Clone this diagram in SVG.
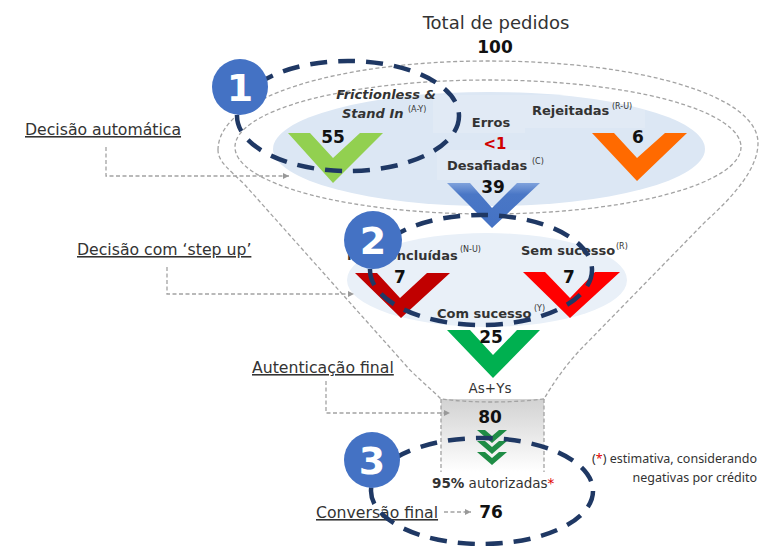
<svg xmlns="http://www.w3.org/2000/svg" width="762" height="546" viewBox="0 0 762 546">
<style>
.gd{fill:none;stroke:#a3a3a3;stroke-width:1.3;stroke-dasharray:4 2.5}
.nv{fill:none;stroke:#1f3864;stroke-width:4.5;stroke-dasharray:17 11}
.lbl{font-family:"DejaVu Sans",sans-serif;font-size:15.7px;fill:#333;text-decoration:underline}
.t{font-family:"DejaVu Sans",sans-serif;font-weight:bold;font-size:13px;fill:#333}
.sup{font-family:"DejaVu Sans",sans-serif;font-size:8px;fill:#333}
.num{font-family:"DejaVu Sans",sans-serif;font-weight:bold;font-size:17px;fill:#111;text-anchor:middle}
.cn{font-family:"DejaVu Sans",sans-serif;font-weight:bold;font-size:38px;fill:#fff;text-anchor:middle}
.circ{fill:#4472c4}
.soft{fill:#fff;opacity:.14}
.chev{fill:#1e8c45}
</style>
<defs>
<marker id="ah" markerWidth="8" markerHeight="8" refX="6" refY="3" orient="auto" markerUnits="userSpaceOnUse"><path d="M0,0 L6,3 L0,6 z" fill="#999"/></marker>
<linearGradient id="box" x1="0" y1="0" x2="0" y2="1"><stop offset="0" stop-color="#d2d2d2"/><stop offset="1" stop-color="#ffffff"/></linearGradient>
<linearGradient id="blu" x1="0" y1="0" x2="0" y2="1"><stop offset="0" stop-color="#7fa2dc"/><stop offset="0.25" stop-color="#4a77c6"/><stop offset="1" stop-color="#4472c4"/></linearGradient>
</defs>
<rect width="762" height="546" fill="#fff"/>

<g id="funnel">
<rect x="441" y="399" width="103" height="73" fill="url(#box)"/>
<path class="gd" d="M218 150 C218 97 338 61 488 61 C638 61 758 95 758 143 C758 168 735 195 705 222 L580 350 C565 366 552 385 544 399 Q492 405 441 399 C432 390 420 380 410 370 L245 185 C230 170 218 162 218 150 Z"/>
<line class="gd" x1="441" y1="399" x2="441" y2="472"/>
<line class="gd" x1="544" y1="399" x2="544" y2="472"/>
<ellipse class="gd" cx="488" cy="147" rx="253" ry="67"/>
<ellipse cx="489" cy="149" rx="216" ry="57" fill="#dce7f4"/>
<rect class="soft" x="433" y="95" width="92" height="38"/>
<rect class="soft" x="437" y="150" width="93" height="30"/>
<rect class="soft" x="525" y="95" width="120" height="33"/>
<ellipse cx="487" cy="280" rx="140" ry="47" fill="#e9f0f8"/>
</g>

<g id="total">
<text x="496" y="29" font-family="DejaVu Sans,sans-serif" font-size="18" fill="#333" text-anchor="middle">Total de pedidos</text>
<text class="num" x="495" y="53">100</text>
</g>

<g id="frictionless">
<polygon points="288,133 310,133 333,158 360,133 383,133 333,183" fill="#92d050"/>
<text class="t" x="386" y="99" text-anchor="middle" font-style="italic">Frictionless &amp;</text>
<text class="t" x="342" y="118" font-style="italic">Stand In</text>
<text class="sup" x="408" y="112">(A-Y)</text>
<text class="num" x="333" y="143">55</text>
</g>

<g id="erros">
<text class="t" x="491" y="127" text-anchor="middle" font-size="12">Erros</text>
<text x="495" y="149" font-family="DejaVu Sans,sans-serif" font-weight="bold" font-size="15" fill="#d00000" text-anchor="middle">&lt;1</text>
</g>

<g id="rejeitadas">
<polygon points="592,133 614,133 637,158 665,133 687,133 637,181" fill="#ff6a00"/>
<text class="t" x="532" y="115">Rejeitadas</text>
<text class="sup" x="612" y="109">(R-U)</text>
<text class="num" x="638" y="143">6</text>
</g>

<g id="desafiadas">
<polygon points="447,183 470,183 492,208 517,183 540,183 492,228" fill="url(#blu)"/>
<text class="t" x="447" y="170" font-size="13.5">Desafiadas</text>
<text class="sup" x="532" y="164">(C)</text>
<text class="num" x="493" y="193">39</text>
</g>

<g id="nao-concluidas">
<polygon points="355,273 377,273 400,298 427,273 450,273 401,318" fill="#c00000"/>
<text class="t" x="347" y="260">Não concluídas</text>
<text class="sup" x="460" y="252">(N-U)</text>
<text class="num" x="400" y="283">7</text>
</g>

<g id="sem-sucesso">
<polygon points="523,272 545,272 570,298 595,272 620,272 570,318" fill="#ff0000"/>
<text class="t" x="521" y="255">Sem sucesso</text>
<text class="sup" x="616" y="249">(R)</text>
<text class="num" x="569" y="283">7</text>
</g>

<g id="com-sucesso">
<polygon points="447,330 470,330 493,355 517,330 540,330 493,378" fill="#00b050"/>
<text class="t" x="437" y="318">Com sucesso</text>
<text class="sup" x="534" y="311">(Y)</text>
<text class="num" x="491" y="343">25</text>
</g>

<g id="autenticacao">
<text x="490" y="393" font-family="DejaVu Sans,sans-serif" font-size="13.5" fill="#333" text-anchor="middle">As+Ys</text>
<text class="num" x="490" y="423" font-size="18">80</text>
<polygon class="chev" points="477,430 485,430 492,436 499,430 507,430 492,443"/>
<polygon class="chev" points="477,441 485,441 492,447 499,441 507,441 492,454"/>
<polygon class="chev" points="477,452 485,452 492,458 499,452 507,452 492,465"/>
<text x="432" y="488" font-family="DejaVu Sans,sans-serif" font-size="13.5" fill="#333"><tspan font-weight="bold">95%</tspan> autorizadas<tspan fill="#e00000">*</tspan></text>
</g>

<g id="conversao">
<text class="num" x="491" y="518" font-size="19">76</text>
</g>

<g id="nota">
<text x="757" y="463" font-family="Noto Sans,sans-serif" font-size="12.5" fill="#333" text-anchor="end">(<tspan fill="#e00000">*</tspan>) estimativa, considerando</text>
<text x="757" y="482" font-family="Noto Sans,sans-serif" font-size="12.5" fill="#333" text-anchor="end">negativas por crédito</text>
</g>

<g id="labels">
<text class="lbl" x="25" y="135">Decisão automática</text>
<text class="lbl" x="77" y="255">Decisão com ‘step up’</text>
<text class="lbl" x="252" y="373">Autenticação final</text>
<text class="lbl" x="316" y="518">Conversão final</text>
</g>

<g id="connectors">
<path class="gd" d="M106 147 V176 H289" marker-end="url(#ah)"/>
<path class="gd" d="M167 267 V294 H354" marker-end="url(#ah)"/>
<path class="gd" d="M326 381 V413 H450" marker-end="url(#ah)"/>
<path class="gd" d="M444 512 H471" marker-end="url(#ah)"/>
</g>

<g id="highlights">
<ellipse class="nv" cx="348" cy="116" rx="111" ry="55"/>
<ellipse class="nv" cx="481" cy="270" rx="111" ry="55"/>
<ellipse class="nv" cx="482" cy="491" rx="111" ry="53"/>
</g>

<g id="step1"><circle class="circ" cx="240" cy="87" r="28"/><text class="cn" x="240" y="101">1</text></g>
<g id="step2"><circle class="circ" cx="373" cy="240" r="29"/><text class="cn" x="373" y="254">2</text></g>
<g id="step3"><circle class="circ" cx="372" cy="460" r="28"/><text class="cn" x="372" y="474">3</text></g>
</svg>
